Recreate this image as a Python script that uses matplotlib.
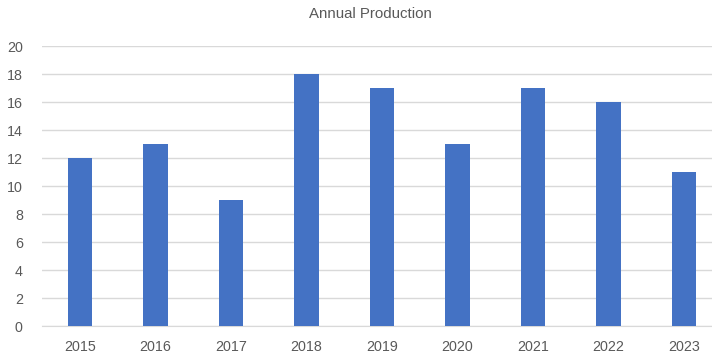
import matplotlib.pyplot as plt

years = ["2015", "2016", "2017", "2018", "2019", "2020", "2021", "2022", "2023"]
production = [12, 13, 9, 18, 17, 13, 17, 16, 11]
y_ticks = [0, 2, 4, 6, 8, 10, 12, 14, 16, 18, 20]


def main() -> None:
    plt.rcParams["font.family"] = ["Liberation Sans", "DejaVu Sans"]
    fig = plt.figure(figsize=(7.12, 3.58), dpi=100)
    # plot area runs a little past the right edge, as in the reference
    ax = fig.add_axes([42.25 / 712, 1 - 326 / 358, 679.5 / 712, 280 / 358])

    x = range(len(years))
    ax.bar(x, production, width=0.32, color="#4472C4", zorder=3)

    ax.set_xlim(-0.5, len(years) - 0.5)
    ax.set_ylim(0, 20)
    ax.set_yticks(y_ticks)
    ax.set_xticks(list(x))
    ax.set_xticklabels(years)
    ax.grid(axis="y", color="#D9D9D9", linewidth=1, zorder=0)
    for side in ["top", "right", "left"]:
        ax.spines[side].set_visible(False)
    ax.spines["bottom"].set_color("#D9D9D9")
    ax.tick_params(axis="both", length=0, labelsize=10.3, colors="#595959")
    ax.tick_params(axis="x", pad=10)
    ax.tick_params(axis="y", pad=14)

    fig.text(370 / 712, 1 - 14 / 358, "Annual Production", ha="center",
             va="center", fontsize=10.8, color="#595959")

    fig.savefig("out.png", dpi=100)
    plt.close(fig)


if __name__ == "__main__":
    main()
